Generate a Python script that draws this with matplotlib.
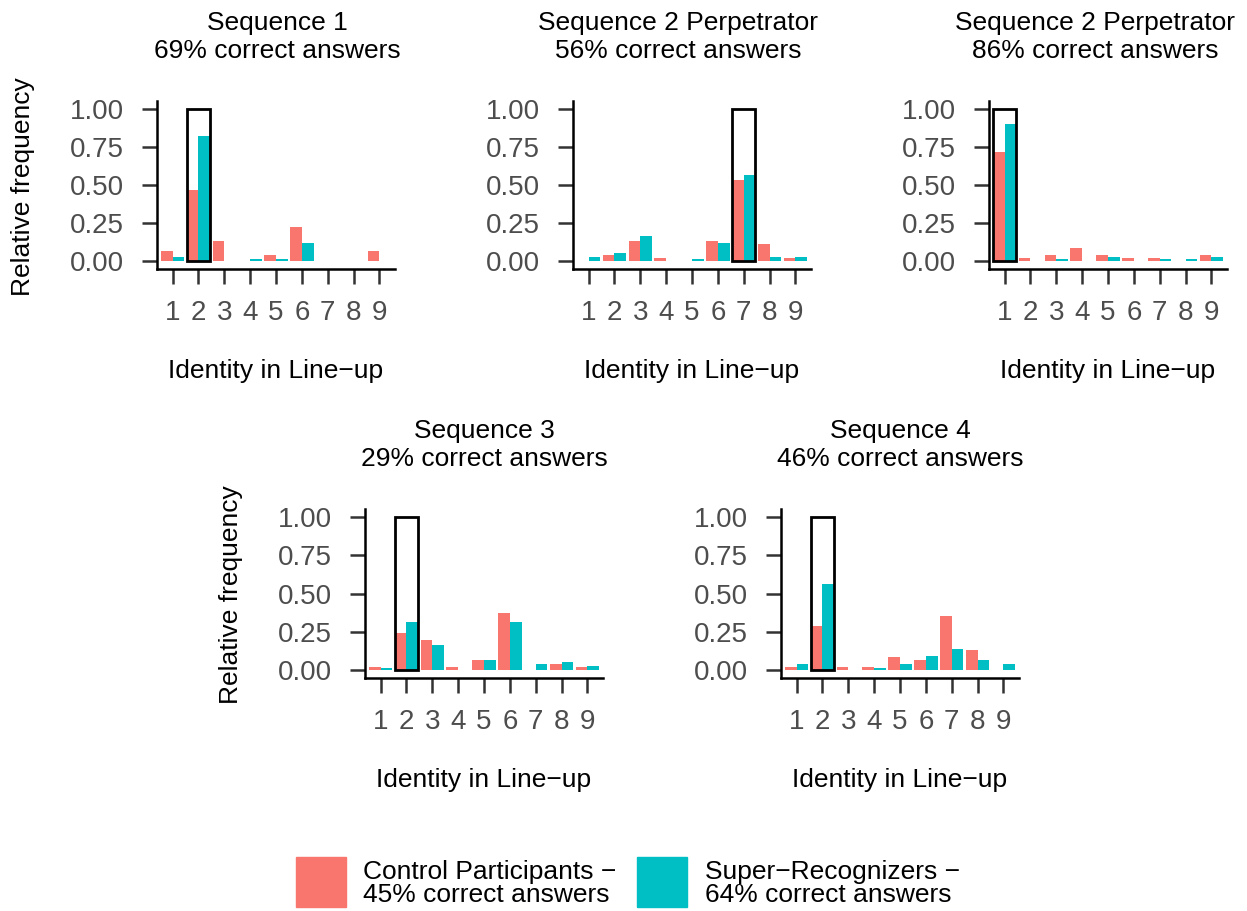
import numpy as np
import matplotlib
matplotlib.use("Agg")
import matplotlib.pyplot as plt
from matplotlib.patches import Rectangle

plt.rcParams['font.family'] = ['Liberation Sans', 'DejaVu Sans']

identities = [1, 2, 3, 4, 5, 6, 7, 8, 9]
titles = ["Sequence 1", "Sequence 2 Perpetrator", "Sequence 2 Perpetrator",
          "Sequence 3", "Sequence 4"]
correct_pct = [69, 56, 86, 29, 46]
correct_id = [2, 7, 1, 2, 2]

control = [
    [0.067, 0.465, 0.133, 0.0, 0.041, 0.224, 0.0, 0.0, 0.067],
    [0.0, 0.041, 0.133, 0.022, 0.0, 0.133, 0.530, 0.113, 0.022],
    [0.713, 0.022, 0.041, 0.087, 0.041, 0.022, 0.022, 0.0, 0.041],
    [0.022, 0.243, 0.198, 0.022, 0.067, 0.374, 0.0, 0.041, 0.022],
    [0.022, 0.289, 0.022, 0.022, 0.087, 0.067, 0.354, 0.133, 0.0],
]
super_rec = [
    [0.028, 0.824, 0.0, 0.015, 0.015, 0.120, 0.0, 0.0, 0.0],
    [0.028, 0.054, 0.165, 0.0, 0.015, 0.120, 0.563, 0.028, 0.028],
    [0.902, 0.0, 0.015, 0.0, 0.028, 0.0, 0.015, 0.015, 0.028],
    [0.015, 0.315, 0.165, 0.0, 0.067, 0.315, 0.041, 0.054, 0.028],
    [0.041, 0.563, 0.0, 0.015, 0.041, 0.093, 0.139, 0.067, 0.041],
]
legend_labels = ["Control Participants \u2212\n45% correct answers",
                 "Super\u2212Recognizers \u2212\n64% correct answers"]

c_ctrl = "#F8766D"
c_sr = "#00BFC4"
W, H = 1247, 911
fs = 19
fs_tick = 20

fig = plt.figure(figsize=(W / 100, H / 100), dpi=100)

# panel boxes in pixels: left, right, top, bottom
boxes = [(157, 395, 101, 269), (573, 811, 101, 269), (989, 1227, 101, 269),
         (365, 603, 509, 678), (781, 1019, 509, 678)]
title_x = [277, 678, 1095, 484, 900]

for i in range(5):
    l, r, t, b = boxes[i]
    ax = fig.add_axes([l / W, 1 - b / H, (r - l) / W, (b - t) / H])
    x = np.array(identities)
    ax.bar(x - 0.225, control[i], width=0.45, color=c_ctrl)
    ax.bar(x + 0.225, super_rec[i], width=0.45, color=c_sr)
    ax.add_patch(Rectangle((correct_id[i] - 0.45, 0), 0.9, 1.0, fill=False,
                           edgecolor="black", linewidth=2.0, zorder=3))
    ax.set_xlim(0.4, 9.6)
    ax.set_ylim(-0.05, 1.05)
    ax.set_xticks(identities)
    ax.set_yticks([0, 0.25, 0.5, 0.75, 1.0])
    ax.set_yticklabels(["0.00", "0.25", "0.50", "0.75", "1.00"])
    for s in ["top", "right"]:
        ax.spines[s].set_visible(False)
    for s in ["left", "bottom"]:
        ax.spines[s].set_linewidth(1.8)
        ax.spines[s].set_color("black")
    ax.tick_params(axis="both", length=11, width=1.8, color="#333333",
                   labelcolor="#4D4D4D", labelsize=fs_tick)
    ax.tick_params(axis="x", pad=11)
    ax.tick_params(axis="y", pad=12.5)
    ax.set_xlabel("Identity in Line\u2212up", fontsize=fs, labelpad=24)

    row_off = 0 if i < 3 else 408
    fig.text(title_x[i] / W, 1 - (30 + row_off) / H, titles[i],
             ha="center", va="baseline", fontsize=fs)
    fig.text(title_x[i] / W, 1 - (57.5 + row_off) / H,
             "%d%% correct answers" % correct_pct[i],
             ha="center", va="baseline", fontsize=fs)

fig.text(23 / W, 1 - 187 / H, "Relative frequency", rotation=90,
         ha="center", va="center", fontsize=fs)
fig.text(231 / W, 1 - 595 / H, "Relative frequency", rotation=90,
         ha="center", va="center", fontsize=fs)

# legend
for kx, tx, col, lab in [(296, 363, c_ctrl, legend_labels[0]),
                         (637, 705, c_sr, legend_labels[1])]:
    fig.add_artist(Rectangle((kx / W, 1 - 907 / H), 50 / W, 50 / H,
                             transform=fig.transFigure, color=col))
    fig.text(tx / W, 1 - 883.5 / H, lab, ha="left", va="center",
             fontsize=fs, linespacing=0.95)

fig.savefig("out.png", dpi=100)
